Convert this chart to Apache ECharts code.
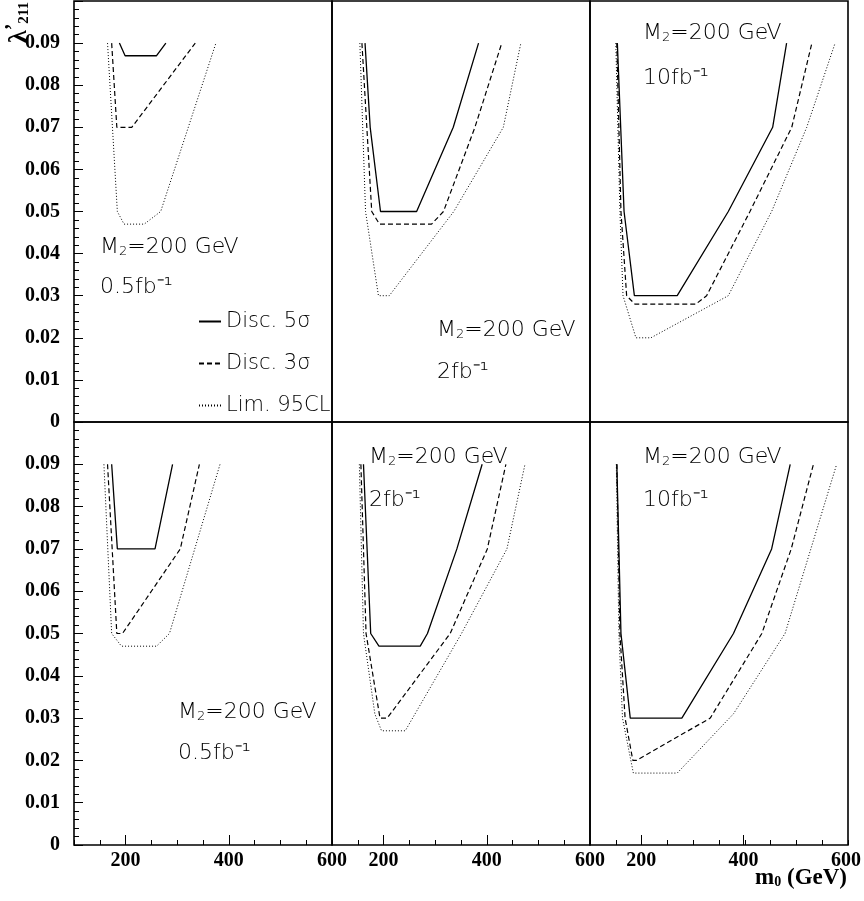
<!DOCTYPE html>
<html><head><meta charset="utf-8">
<script src="https://cdn.jsdelivr.net/npm/echarts@6/dist/echarts.min.js"></script>
<style>html,body{margin:0;padding:0;background:#fff}#c{width:864px;height:901px}</style>
</head><body><div id="c"></div>
<script>
// axis ranges and ticks
const xMin = 100, xMax = 600;
const yMin = 0, yMax = 0.1;
const xMajorTicks = [200, 400];
const xTickLabels = [200, 400, 600];

// panel annotations
const panelLumi = ['0.5fb', '2fb', '10fb', '0.5fb', '2fb', '10fb'];
const seriesNames = ['Disc. 5σ', 'Disc. 3σ', 'Lim. 95CL'];

// top-left: 0.5 fb^-1
const tl5 = [[188,0.09],[199,0.087],[260,0.087],[278,0.09]];
const tl3 = [[173,0.09],[183,0.07],[212,0.07],[335,0.09]];
const tl95 = [[165,0.09],[184,0.05],[197,0.047],[236,0.047],[268,0.05],[375,0.09]];
// top-middle: 2 fb^-1
const tm5 = [[164,0.09],[174,0.07],[194,0.05],[264,0.05],[335,0.07],[384,0.09]];
const tm3 = [[158,0.09],[177,0.05],[192,0.047],[293,0.047],[316,0.05],[377,0.07],[429,0.09]];
const tm95 = [[154,0.09],[165,0.05],[190,0.03],[211,0.03],[336,0.05],[432,0.07],[466,0.09]];
// top-right: 10 fb^-1
const tr5 = [[153,0.09],[166,0.05],[186,0.03],[269,0.03],[368,0.05],[454,0.07],[481,0.09]];
const tr3 = [[152,0.09],[160,0.05],[171,0.03],[187,0.028],[305,0.028],[326,0.03],[410,0.05],[491,0.07],[530,0.09]];
const tr95 = [[150,0.09],[158,0.05],[164,0.03],[189,0.02],[218,0.02],[368,0.03],[452,0.05],[520,0.07],[575,0.09]];
// bottom-left: 0.5 fb^-1
const bl5 = [[173,0.09],[184,0.07],[257,0.07],[291,0.09]];
const bl3 = [[165,0.09],[183,0.05],[194,0.05],[306,0.07],[343,0.09]];
const bl95 = [[158,0.09],[173,0.05],[192,0.047],[260,0.047],[285,0.05],[383,0.09]];
// bottom-middle: 2 fb^-1
const bm5 = [[161,0.09],[175,0.05],[191,0.047],[271,0.047],[285,0.05],[342,0.07],[391,0.09]];
const bm3 = [[156,0.09],[166,0.05],[193,0.03],[207,0.03],[329,0.05],[401,0.07],[437,0.09]];
const bm95 = [[153,0.09],[161,0.05],[183,0.031],[196,0.027],[242,0.027],[351,0.05],[439,0.07],[474,0.09]];
// bottom-right: 10 fb^-1
const br5 = [[152,0.09],[160,0.05],[178,0.03],[278,0.03],[378,0.05],[452,0.07],[488,0.09]];
const br3 = [[152,0.09],[158,0.05],[168,0.03],[183,0.02],[190,0.02],[333,0.03],[433,0.05],[490,0.07],[533,0.09]];
const br95 = [[151,0.09],[156,0.05],[163,0.03],[184,0.017],[269,0.017],[378,0.031],[478,0.05],[578,0.09]];

const panels = [[tl5,tl3,tl95],[tm5,tm3,tm95],[tr5,tr3,tr95],[bl5,bl3,bl95],[bm5,bm3,bm95],[br5,br3,br95]];

const chart = echarts.init(document.getElementById('c'), null, {renderer:'canvas'});
const serif = 'Liberation Serif';
const sans = 'DejaVu Sans';

const lefts = [74, 332, 590];
const rows = [{top:1, height:421}, {top:422, height:423}];
const grid = [], xAxis = [], yAxis = [], series = [];
for (let r = 0; r < 2; r++) for (let c = 0; c < 3; c++) {
  grid.push({left: lefts[c], width: 258, top: rows[r].top, height: rows[r].height,
    show: true, borderColor: '#000', borderWidth: 1.6, backgroundColor: 'transparent'});
}
// overlay grids for long major x ticks (bottom row)
for (let c = 0; c < 3; c++) grid.push({left: lefts[c], width: 258, top: 422, height: 423, show: false});

for (let i = 0; i < 6; i++) {
  const bottom = i >= 3;
  xAxis.push({type:'value', gridIndex:i, min:xMin, max:xMax, interval:50,
    axisLine:{show:false}, splitLine:{show:false},
    axisTick:{show:bottom, inside:true, length:5, lineStyle:{color:'#000', width:1}},
    axisLabel:{show:false}});
  const left = (i % 3) === 0;
  yAxis.push({type:'value', gridIndex:i, min:yMin, max:yMax, interval:0.01,
    axisLine:{show:false}, splitLine:{show:false},
    axisTick:{show:left, inside:true, length:9, lineStyle:{color:'#000', width:1}},
    minorTick:{show:left, splitNumber:5, length:5, lineStyle:{color:'#000', width:1}},
    axisLabel:{show:left, margin:14, color:'#000', fontFamily:serif, fontWeight:'bold', fontSize:20,
      formatter: v => v > 0.0999 ? '' : (v === 0 ? '0' : v.toFixed(2))}});
}
for (let c = 0; c < 3; c++) {
  xAxis.push({type:'value', gridIndex:6+c, min:xMin, max:xMax,
    axisLine:{show:false}, splitLine:{show:false},
    axisTick:{show:true, inside:true, length:10, customValues:xMajorTicks, lineStyle:{color:'#000', width:1}},
    axisLabel:{show:true, customValues:xTickLabels, margin:6, color:'#000', fontFamily:serif, fontWeight:'bold', fontSize:20}});
  yAxis.push({type:'value', gridIndex:6+c, min:yMin, max:yMax, show:false});
}

const styles = [
  {type:'solid', width:1.3},
  {type:[5,3], width:1.2},
  {type:[1,2], width:1}
];
panels.forEach((p, i) => {
  p.forEach((d, k) => {
    series.push({type:'line', name:seriesNames[k], xAxisIndex:i, yAxisIndex:i, data:d,
      symbol:'none', showSymbol:false, animation:false, silent:true,
      lineStyle:Object.assign({color:'#000'}, styles[k]), itemStyle:{color:'#000'}});
  });
});

const richStyle = {
  a:{fontFamily:sans, fontSize:22, color:'#000', fontWeight:200},
  s:{fontFamily:sans, fontSize:13, color:'#000', fontWeight:200, padding:[9,0,0,0]}
};
function txt(x, y, text) {
  return {type:'text', x:x, y:y, style:{text:text, rich:richStyle, textAlign:'left', textVerticalAlign:'middle'}};
}
const textPos = [
  [100,247,100,287],[437,330,437,372],[643,33,643,78],
  [178,712,178,753],[369,457,369,500],[643,457,643,500]
];
const graphics = [];
textPos.forEach((t, i) => {
  graphics.push(txt(t[0], t[1], '{a|M}{s|2}{a|=200 GeV}'));
  graphics.push(txt(t[2], t[3], '{a|' + panelLumi[i] + '\u207B\u00B9}'));
});
// axis titles
graphics.push({type:'text', x:847, y:878, style:{text:'{b|m}{bs|0}{b| (GeV)}', textAlign:'right', textVerticalAlign:'middle',
  rich:{b:{fontFamily:serif, fontWeight:'bold', fontSize:23, color:'#000'},
        bs:{fontFamily:serif, fontWeight:'bold', fontSize:14, color:'#000', padding:[9,0,0,0]}}}});
graphics.push({type:'text', x:19, y:2, rotation:Math.PI/2, style:{text:'{b|λ}{p|\u2019}{bs|211}', textAlign:'right', textVerticalAlign:'middle',
  rich:{b:{fontFamily:serif, fontWeight:'bold', fontSize:26, color:'#000'},
        p:{fontFamily:serif, fontWeight:'bold', fontSize:20, color:'#000', padding:[0,0,10,0]},
        bs:{fontFamily:serif, fontWeight:'bold', fontSize:15, color:'#000', padding:[10,0,0,0]}}}});

chart.setOption({
  backgroundColor:'#fff',
  animation:false,
  grid:grid, xAxis:xAxis, yAxis:yAxis, series:series,
  legend:{show:true, orient:'vertical', left:193, top:306, itemWidth:22, itemHeight:14, itemGap:21,
    selectedMode:false, data:seriesNames, itemStyle:{opacity:0},
    textStyle:{fontFamily:sans, fontSize:21, color:'#000', fontWeight:200}},
  graphic:graphics
});
</script></body></html>
